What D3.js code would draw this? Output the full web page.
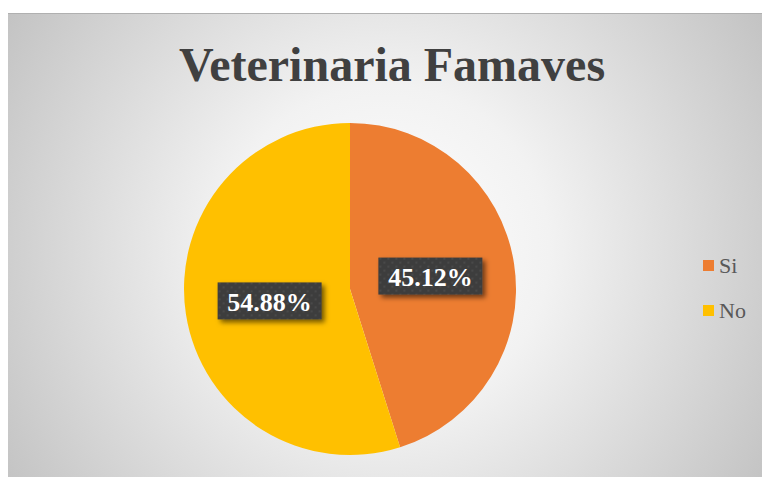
<!DOCTYPE html>
<html>
<head>
<meta charset="utf-8">
<script src="https://cdn.jsdelivr.net/npm/d3@7"></script>
<style>
  body { margin: 0; background: #fff; }
</style>
</head>
<body>
<svg id="chart"></svg>
<script>
// data
const categories = ["Si", "No"];
const values = [45.12, 54.88];
const colors = ["#ED7D31", "#FFC000"];
const title = "Veterinaria Famaves";

const width = 763, height = 477;
const svg = d3.select("#chart").attr("width", width).attr("height", height);
const defs = svg.append("defs");

// background gradient
const grad = defs.append("radialGradient").attr("id", "bg")
  .attr("gradientUnits", "userSpaceOnUse")
  .attr("cx", 385).attr("cy", 250).attr("r", 470);
grad.append("stop").attr("offset", "0%").attr("stop-color", "#ffffff");
grad.append("stop").attr("offset", "35%").attr("stop-color", "#f2f2f2");
grad.append("stop").attr("offset", "100%").attr("stop-color", "#bfbfbf");

// dotted label pattern
const pat = defs.append("pattern").attr("id", "dots")
  .attr("width", 8).attr("height", 8).attr("patternUnits", "userSpaceOnUse");
pat.append("rect").attr("width", 8).attr("height", 8).attr("fill", "#3d3d3d");
pat.append("rect").attr("x", 1).attr("y", 1).attr("width", 2).attr("height", 2).attr("fill", "#4a4a4a");
pat.append("rect").attr("x", 5).attr("y", 5).attr("width", 2).attr("height", 2).attr("fill", "#4a4a4a");

const shadow = defs.append("filter").attr("id", "shadow")
  .attr("x", "-20%").attr("y", "-30%").attr("width", "150%").attr("height", "180%");
shadow.append("feDropShadow").attr("dx", 3).attr("dy", 3).attr("stdDeviation", 2.5)
  .attr("flood-color", "#000").attr("flood-opacity", 0.55);

svg.append("rect").attr("x", 8).attr("y", 13).attr("width", 754).attr("height", 470)
  .attr("fill", "url(#bg)");
svg.append("line").attr("x1", 8).attr("x2", 762).attr("y1", 13.5).attr("y2", 13.5)
  .attr("stroke", "#b0b0b0");

// title
svg.append("text").attr("x", 392).attr("y", 81)
  .attr("text-anchor", "middle")
  .attr("font-family", "Liberation Serif, Times New Roman, serif")
  .attr("font-weight", "bold").attr("font-size", 48).attr("fill", "#404040")
  .text(title);

// pie
const cx = 350, cy = 289, r = 166;
const pie = d3.pie().sort(null).value(d => d);
const arcs = pie(values);
const arc = d3.arc().innerRadius(0).outerRadius(r);
const labelArc = d3.arc().innerRadius(r * 0.49).outerRadius(r * 0.49);

const g = svg.append("g").attr("transform", `translate(${cx},${cy})`);
g.selectAll("path").data(arcs).join("path")
  .attr("d", arc)
  .attr("fill", (d, i) => colors[i]);

const fmt = v => v.toFixed(2) + "%";
const labels = g.selectAll("g.lbl").data(arcs).join("g").attr("class", "lbl")
  .attr("transform", d => `translate(${labelArc.centroid(d)})`);
labels.append("rect")
  .attr("x", -52).attr("y", -19).attr("width", 104).attr("height", 37)
  .attr("fill", "url(#dots)").attr("filter", "url(#shadow)");
labels.append("text")
  .attr("text-anchor", "middle").attr("dy", "0.35em")
  .attr("font-family", "Liberation Serif, Times New Roman, serif")
  .attr("font-weight", "bold").attr("font-size", 26).attr("fill", "#fff")
  .text(d => fmt(d.data));

// legend
const legend = svg.append("g").selectAll("g").data(categories).join("g")
  .attr("transform", (d, i) => `translate(703, ${266 + i * 45})`);
legend.append("rect").attr("x", 0).attr("y", -6).attr("width", 11).attr("height", 11)
  .attr("fill", (d, i) => colors[i]);
legend.append("text").attr("x", 16).attr("y", 7)
  .attr("font-family", "Liberation Serif, Times New Roman, serif")
  .attr("font-size", 22).attr("fill", "#595959")
  .text(d => d);
</script>
</body>
</html>
